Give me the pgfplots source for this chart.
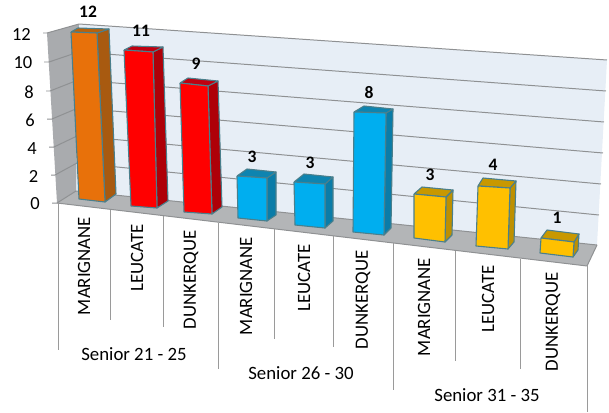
\documentclass[border=0pt]{standalone}
\usepackage{pgfplots}
\pgfplotsset{compat=1.18}
\usepackage{fontspec}
\setmainfont{Carlito}
\definecolor{wall}{HTML}{E7EEF6}
\definecolor{lwall}{HTML}{A9ABAE}
\definecolor{floorc}{HTML}{B3B5B7}
\definecolor{gridc}{HTML}{8F9193}
\definecolor{sep}{HTML}{9A9A9A}
\definecolor{edgec}{HTML}{4A7F8C}
\definecolor{oF}{HTML}{E8710A}\definecolor{oS}{HTML}{A85A10}\definecolor{oT}{HTML}{B8620C}
\definecolor{rF}{HTML}{FF0000}\definecolor{rS}{HTML}{AE0008}\definecolor{rT}{HTML}{C00010}
\definecolor{bF}{HTML}{00AEEF}\definecolor{bS}{HTML}{0A7CA8}\definecolor{bT}{HTML}{0E84B0}
\definecolor{yF}{HTML}{FFC000}\definecolor{yS}{HTML}{BE9000}\definecolor{yT}{HTML}{C89800}
\tikzset{
  fr/.style={fill=#1, draw=edgec, line width=1.1pt},
  wl/.style={fill=#1, draw=none},
  gl/.style={draw=gridc, line width=1pt},
  sp/.style={draw=sep, line width=0.9pt},
  val/.style={font=\fontsize{17.5bp}{17.5bp}\selectfont\bfseries, inner sep=0pt, anchor=center},
  tk/.style={font=\fontsize{18.5bp}{18.5bp}\selectfont, inner sep=0pt, anchor=east},
  cat/.style={font=\fontsize{18.8bp}{18.8bp}\selectfont, inner sep=0pt, anchor=center, rotate=90},
  grp/.style={font=\fontsize{18.8bp}{18.8bp}\selectfont, inner sep=0pt, anchor=center},
}
\begin{document}
\begin{tikzpicture}
\begin{axis}[
  scale only axis, width=609bp, height=412bp,
  xmin=0, xmax=609, ymin=0, ymax=412, y dir=reverse,
  hide axis, clip=false,
  every axis plot/.append style={no markers, forget plot, line join=round},
]
\path (axis cs:0,0) rectangle (axis cs:609,412);
% walls and floor
\addplot[wl=wall] coordinates {(79,24)(607,60)(597,245)(76,191)(79,24)};
\addplot[wl=lwall] coordinates {(47,33)(79,24)(76,191)(57,203)(47,33)};
\addplot[wl=floorc] coordinates {(57,203)(76,191)(597,245)(587,266)(57,203)};
% gridlines, 12 down to 0
\addplot[gl] coordinates {(43,33)(47,33)(79,24)(607,60)};
\addplot[gl] coordinates {(44,62)(49,62)(78.5,52)(606,91)};
\addplot[gl] coordinates {(46,91)(50,91)(78,80)(604,122)};
\addplot[gl] coordinates {(47,119)(52,119)(78,108)(603,153)};
\addplot[gl] coordinates {(49,147)(54,147)(77,136)(601,184)};
\addplot[gl] coordinates {(51,175)(55,175)(77,163)(599,215)};
\addplot[gl] coordinates {(52,203)(57,203)(76,191)(597,245)};
\addplot[gl] coordinates {(57,203)(587,266)(597,245)};
% separators
\addplot[sp] coordinates {(58,203)(58,350)};
\addplot[sp] coordinates {(110,210)(110,320)};
\addplot[sp] coordinates {(163,216)(163,327)};
\addplot[sp] coordinates {(218,223)(218,369)};
\addplot[sp] coordinates {(274,229)(274,339)};
\addplot[sp] coordinates {(333,236)(333,347)};
\addplot[sp] coordinates {(393,243)(393,390)};
\addplot[sp] coordinates {(455,251)(455,361)};
\addplot[sp] coordinates {(520,259)(520,369)};
\addplot[sp] coordinates {(587,266)(587,412)};
% bars: value 12
\addplot[fr=oS] coordinates {(97,33)(109,29)(116,194)(105,202)(97,33)};
\addplot[fr=oT] coordinates {(71,32)(78,28)(109,29)(97,33)(71,32)};
\addplot[fr=oF] coordinates {(71,32)(97,33)(105,202)(79,199)(71,32)};
% 11
\addplot[fr=rS] coordinates {(153,52)(163,47)(168,201)(157,208)(153,52)};
\addplot[fr=rT] coordinates {(124,50)(132,46)(163,47)(153,52)(124,50)};
\addplot[fr=rF] coordinates {(124,50)(153,52)(157,208)(131,206)(124,50)};
% 9
\addplot[fr=rS] coordinates {(208,86)(218,81)(222,207)(212,214)(208,86)};
\addplot[fr=rT] coordinates {(180,83)(188,78)(218,81)(208,86)(180,83)};
\addplot[fr=rF] coordinates {(180,83)(208,86)(212,214)(184,212)(180,83)};
% 3
\addplot[fr=bS] coordinates {(267,178)(276,172)(276,215)(267,221)(267,178)};
\addplot[fr=bT] coordinates {(237,176)(247,169)(276,172)(267,178)(237,176)};
\addplot[fr=bF] coordinates {(237,176)(267,178)(267,221)(238,218)(237,176)};
% 3
\addplot[fr=bS] coordinates {(325,184)(333,177)(333,221)(325,228)(325,184)};
\addplot[fr=bT] coordinates {(294,182)(304,174)(333,177)(325,184)(294,182)};
\addplot[fr=bF] coordinates {(294,182)(325,184)(325,228)(295,225)(294,182)};
% 8
\addplot[fr=bS] coordinates {(386,113)(393,109)(391,228)(384,235)(386,113)};
\addplot[fr=bT] coordinates {(354,112)(364,106)(393,109)(386,113)(354,112)};
\addplot[fr=bF] coordinates {(354,112)(386,113)(384,235)(353,232)(354,112)};
% 3
\addplot[fr=yS] coordinates {(446,197)(453,190)(452,235)(445,242)(446,197)};
\addplot[fr=yT] coordinates {(414,194)(422,187)(453,190)(446,197)(414,194)};
\addplot[fr=yF] coordinates {(414,194)(446,197)(445,242)(414,238)(414,194)};
% 4
\addplot[fr=yS] coordinates {(510,188)(516,181)(514,242)(508,249)(510,188)};
\addplot[fr=yT] coordinates {(478,186)(483,178)(516,181)(510,188)(478,186)};
\addplot[fr=yF] coordinates {(478,186)(510,188)(508,249)(476,246)(478,186)};
% 1
\addplot[fr=yS] coordinates {(574,242)(579,234)(578,250)(573,257)(574,242)};
\addplot[fr=yT] coordinates {(541,238)(547,230)(579,234)(574,242)(541,238)};
\addplot[fr=yF] coordinates {(541,238)(574,242)(573,257)(540,253)(541,238)};
% value labels
\node[val] at (axis cs:88,12) {12};
\node[val] at (axis cs:141,31) {11};
\node[val] at (axis cs:196,64) {9};
\node[val] at (axis cs:252,157) {3};
\node[val] at (axis cs:310,163) {3};
\node[val] at (axis cs:369,93) {8};
\node[val] at (axis cs:430,175) {3};
\node[val] at (axis cs:493,165) {4};
\node[val] at (axis cs:557,218) {1};
% tick labels
\node[tk] at (axis cs:31,34) {12};
\node[tk] at (axis cs:32.5,63) {10};
\node[tk] at (axis cs:34,92) {8};
\node[tk] at (axis cs:35,120) {6};
\node[tk] at (axis cs:37,149) {4};
\node[tk] at (axis cs:38.5,176) {2};
\node[tk] at (axis cs:40,204) {0};
% categories
\node[cat] at (axis cs:84,266) {MARIGNANE};
\node[cat] at (axis cs:137,258) {LEUCATE};
\node[cat] at (axis cs:191,280) {DUNKERQUE};
\node[cat] at (axis cs:246,286) {MARIGNANE};
\node[cat] at (axis cs:304,278) {LEUCATE};
\node[cat] at (axis cs:363,300) {DUNKERQUE};
\node[cat] at (axis cs:424,307) {MARIGNANE};
\node[cat] at (axis cs:488,299) {LEUCATE};
\node[cat] at (axis cs:553,322) {DUNKERQUE};
\node[grp] at (axis cs:134,354) {Senior 21 - 25};
\node[grp] at (axis cs:301,373) {Senior 26 - 30};
\node[grp] at (axis cs:487,395) {Senior 31 - 35};
\end{axis}
\end{tikzpicture}
\end{document}
